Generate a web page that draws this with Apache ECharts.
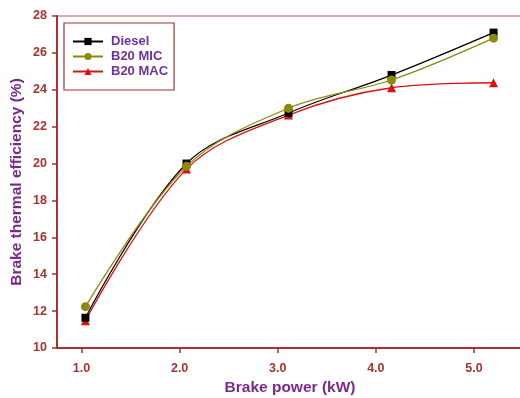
<!DOCTYPE html>
<html>
<head>
<meta charset="utf-8">
<script src="https://cdn.jsdelivr.net/npm/echarts@6/dist/echarts.min.js"></script>
<style>
  html, body { margin: 0; padding: 0; background: #fff; }
  #chart { width: 520px; height: 398px; }
</style>
</head>
<body>
<div id="chart"></div>
<script>
// brake power (kW) for each test point
const power = [1.04, 2.07, 3.11, 4.16, 5.20];
const diesel = [11.64, 20.0, 22.74, 24.8, 27.1];
const b20Mic = [12.24, 19.85, 23.0, 24.53, 26.8];
const b20Mac = [11.48, 19.7, 22.63, 24.11, 24.38];
const xTicks = [1, 2, 3, 4, 5];

const axisRed = '#a8322c';
const purple = '#7a2a8c';
const font = 'Liberation Sans, Arial, sans-serif';

function pairs(ys) {
    return power.map((x, i) => [x, ys[i]]);
}

const chart = echarts.init(document.getElementById('chart'));

const option = {
    animation: false,
    grid: {
        left: 57,
        top: 16,
        width: 466,
        bottom: 50,
        outerBoundsMode: 'none',
        show: true,
        borderColor: '#b05a55',
        borderWidth: 1
    },
    legend: {
        orient: 'vertical',
        left: 64,
        top: 23,
        padding: [12, 6, 12, 8],
        itemGap: 2,
        itemWidth: 30,
        itemHeight: 9,
        borderColor: axisRed,
        borderWidth: 1.2,
        textStyle: {
            color: '#7030a0',
            fontWeight: 'bold',
            fontSize: 13,
            fontFamily: font,
            padding: [0, 0, 0, 3]
        },
        data: ['Diesel', 'B20 MIC', 'B20 MAC']
    },
    xAxis: {
        type: 'value',
        min: 0.75,
        max: 5.5,
        name: 'Brake power (kW)',
        nameLocation: 'middle',
        nameGap: 32,
        nameMoveOverlap: false,
        nameTextStyle: {
            color: purple,
            fontWeight: 'bold',
            fontSize: 15.5,
            fontFamily: font
        },
        axisLine: { lineStyle: { color: axisRed, width: 2 } },
        axisTick: {
            customValues: xTicks,
            length: 5,
            lineStyle: { color: axisRed, width: 1.5 }
        },
        axisLabel: {
            customValues: xTicks,
            margin: 14,
            color: axisRed,
            fontWeight: 'bold',
            fontSize: 12.5,
            fontFamily: font,
            formatter: v => v.toFixed(1)
        },
        splitLine: { show: false }
    },
    yAxis: {
        type: 'value',
        min: 10,
        max: 28,
        interval: 2,
        name: 'Brake thermal efficiency (%)',
        nameLocation: 'middle',
        nameGap: 32,
        nameMoveOverlap: false,
        nameTextStyle: {
            color: purple,
            fontWeight: 'bold',
            fontSize: 15.5,
            fontFamily: font
        },
        axisLine: { show: true, lineStyle: { color: axisRed, width: 2 } },
        axisTick: { show: true, length: 5, lineStyle: { color: axisRed, width: 1.5 } },
        axisLabel: {
            margin: 10,
            color: axisRed,
            fontWeight: 'bold',
            fontSize: 12.5,
            fontFamily: font
        },
        splitLine: { show: false }
    },
    series: [
        {
            name: 'Diesel',
            type: 'line',
            smooth: 0.35,
            data: pairs(diesel),
            symbol: 'rect',
            symbolSize: 8,
            itemStyle: { color: '#000' },
            lineStyle: { color: '#000', width: 1.3 },
            z: 3
        },
        {
            name: 'B20 MIC',
            type: 'line',
            smooth: 0.35,
            data: pairs(b20Mic),
            symbol: 'circle',
            symbolSize: 9,
            itemStyle: { color: '#8a8a0c' },
            lineStyle: { color: '#8a8a0c', width: 1.3 },
            z: 4
        },
        {
            name: 'B20 MAC',
            type: 'line',
            smooth: 0.35,
            data: pairs(b20Mac),
            symbol: 'triangle',
            symbolSize: 9,
            itemStyle: { color: '#e01010' },
            lineStyle: { color: '#e01010', width: 1.3 },
            z: 2
        }
    ]
};

chart.setOption(option);
</script>
</body>
</html>
